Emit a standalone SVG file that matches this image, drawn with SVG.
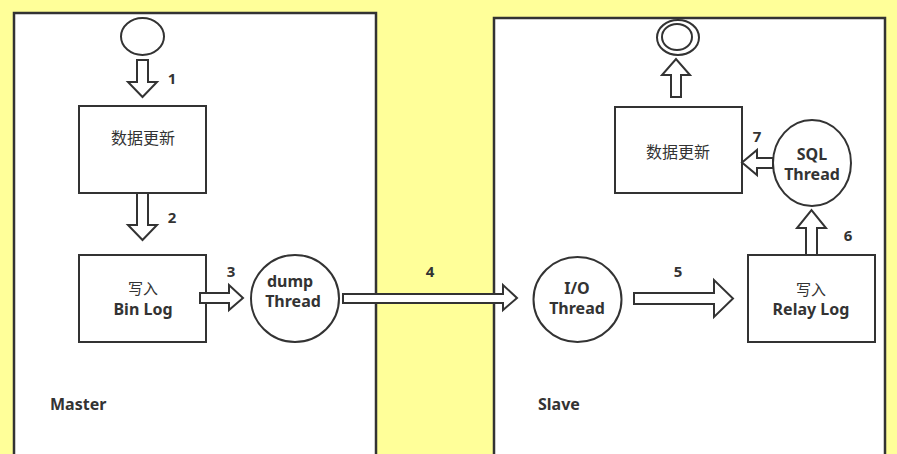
<svg xmlns="http://www.w3.org/2000/svg" width="897" height="454" viewBox="0 0 897 454">
<style>
.panel{fill:#fff;stroke:#333;stroke-width:2.5}
.shape{fill:#fff;stroke:#333;stroke-width:2}
.arr{fill:#fff;stroke:#333;stroke-width:2;stroke-linejoin:miter}
text{font-family:"Noto Sans","Noto Sans CJK SC",sans-serif;fill:#333;text-anchor:middle;dominant-baseline:central}
.b{font-weight:bold;font-size:16px}
.cn{font-family:"Noto Sans CJK SC",sans-serif;font-size:16px}
.cs{font-family:"Noto Sans CJK SC",sans-serif;font-size:15px}
.n{font-weight:bold;font-size:15px}
.lbl{font-weight:bold;font-size:16px;text-anchor:start}
</style>
<rect x="0" y="0" width="897" height="454" fill="#ffff99"/>
<g id="master">
<rect class="panel" x="14" y="13" width="362" height="460"/>
<text class="lbl" x="50" y="404">Master</text>
</g>
<g id="slave">
<rect class="panel" x="494" y="18" width="391" height="460"/>
<text class="lbl" x="538" y="404">Slave</text>
</g>
<g id="start"><ellipse class="shape" cx="142.5" cy="36.5" rx="21.5" ry="18.5"/></g>
<g id="m-update"><rect class="shape" x="79" y="106" width="127" height="87"/><text class="cn" x="143" y="137">数据更新</text></g>
<g id="binlog"><rect class="shape" x="79" y="255" width="127" height="87"/><text class="cs" x="143" y="287">写入</text><text class="b" x="143" y="309">Bin Log</text></g>
<g id="dump"><ellipse class="shape" cx="295" cy="298.5" rx="44" ry="43.5"/><text class="b" x="290" y="281">dump</text><text class="b" x="293" y="301">Thread</text></g>
<g id="io"><ellipse class="shape" cx="577.5" cy="299.5" rx="44" ry="42.5"/><text class="b" x="577" y="288">I/O</text><text class="b" x="577" y="308">Thread</text></g>
<g id="relaylog"><rect class="shape" x="748" y="255" width="127" height="87"/><text class="cs" x="811" y="288">写入</text><text class="b" x="811" y="309">Relay Log</text></g>
<g id="sql"><ellipse class="shape" cx="812" cy="163" rx="39" ry="43"/><text class="b" x="812" y="154">SQL</text><text class="b" x="812" y="174">Thread</text></g>
<g id="s-update"><rect class="shape" x="615" y="107" width="127" height="86"/><text class="cn" x="678" y="151">数据更新</text></g>
<g id="end"><ellipse class="shape" cx="678" cy="37.5" rx="21" ry="17.5"/><ellipse class="shape" cx="677" cy="37" rx="15" ry="13"/></g>
<g id="connectors">
<polygon class="arr" points="137,60 148,60 148,82 157,82 142.5,97 128,82 137,82"/>
<text class="n" x="172" y="78">1</text>
<polygon class="arr" points="137,193 148,193 148,225 157,225 142.5,240 128,225 137,225"/>
<text class="n" x="172" y="217">2</text>
<polygon class="arr" points="200,293 229,293 229,285 243,298 229,310 229,303 200,303"/>
<text class="n" x="231" y="271">3</text>
<polygon class="arr" points="343,294 503,294 503,285 517,298 503,310 503,303 343,303"/>
<text class="n" x="430" y="271">4</text>
<polygon class="arr" points="634,293 714,293 714,280 733,298.5 714,317 714,304 634,304"/>
<text class="n" x="678" y="271">5</text>
<polygon class="arr" points="806,255 806,228 797,228 811.5,210 826,228 817,228 817,255"/>
<text class="n" x="848" y="235">6</text>
<polygon class="arr" points="773,158 757,158 757,150 742,162.5 757,175 757,168 773,168"/>
<text class="n" x="757" y="136">7</text>
<polygon class="arr" points="671,97 671,75 662,75 676,59 690,75 681,75 681,97"/>
</g>
</svg>
